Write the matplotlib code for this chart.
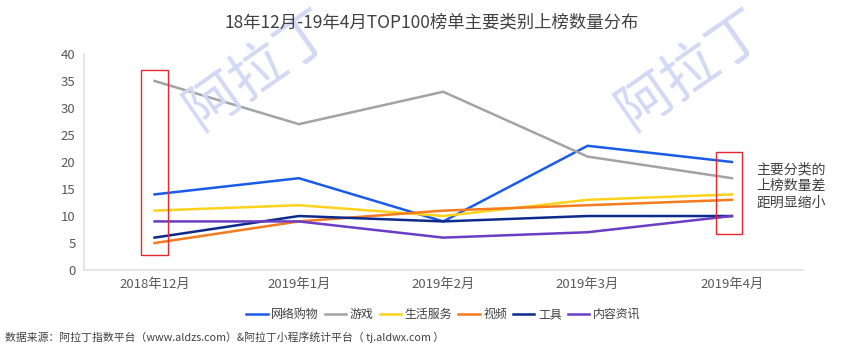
import matplotlib
matplotlib.use('Agg')
import matplotlib.pyplot as plt
from matplotlib.patches import Rectangle

plt.rcParams['font.family'] = ['Noto Sans CJK SC', 'DejaVu Sans']

# data
months = ['2018年12月', '2019年1月', '2019年2月', '2019年3月', '2019年4月']
shopping = [14, 17, 9, 23, 20]
games = [35, 27, 33, 21, 17]
life = [11, 12, 10, 13, 14]
video = [5, 9, 11, 12, 13]
tools = [6, 10, 9, 10, 10]
news = [9, 9, 6, 7, 10]

series = [
    ('网络购物', shopping, '#1a5ce8'),
    ('游戏', games, '#a3a3a3'),
    ('生活服务', life, '#fcd21c'),
    ('视频', video, '#f47b20'),
    ('工具', tools, '#0b2a8c'),
    ('内容资讯', news, '#6a3dc4'),
]

fig = plt.figure(figsize=(8.64, 3.48), dpi=100)
ax = fig.add_axes([0.097, 0.224, 0.832, 0.621])

x = range(len(months))
for name, vals, col in series:
    ax.plot(x, vals, color=col, lw=1.8, label=name, zorder=3)

ax.set_xlim(-0.49, 4.49)
ax.set_ylim(0, 40)
ax.set_yticks(range(0, 41, 5))
ax.set_xticks(list(x))
ax.set_xticklabels(months)
ax.tick_params(length=0, labelsize=9.5, colors='#595959', pad=6)
for s in ['top', 'right']:
    ax.spines[s].set_visible(False)
for s in ['left', 'bottom']:
    ax.spines[s].set_color('#e0e0e0')
    ax.spines[s].set_linewidth(1.2)

# highlight boxes
ax.add_patch(Rectangle((-0.095, 2.8), 0.185, 34.2, fill=False, ec='#e8282e', lw=1.0, zorder=4))
ax.add_patch(Rectangle((3.89, 6.7), 0.18, 15.1, fill=False, ec='#e8282e', lw=1.0, zorder=4))
ax.text(4.17, 15.6, '主要分类的\n上榜数量差\n距明显缩小', fontsize=10, color='#404040',
        va='center', ha='left', linespacing=1.25, clip_on=False)

# faint watermark
fig.text(0.30, 0.80, '阿拉丁', fontsize=40, color='#d3d9f5', rotation=35,
         ha='center', va='center', zorder=0)
fig.text(0.80, 0.80, '阿拉丁', fontsize=40, color='#d3d9f5', rotation=35,
         ha='center', va='center', zorder=0)

fig.text(0.5, 0.935, '18年12月-19年4月TOP100榜单主要类别上榜数量分布', ha='center', va='center',
         fontsize=12.5, color='#404040')

ax.legend(loc='center', bbox_to_anchor=(0.5, -0.205), ncol=6, frameon=False,
          fontsize=8.6, handlelength=1.8, handletextpad=0.3, columnspacing=0.5,
          labelcolor='#404040')

fig.text(0.006, 0.03, '数据来源：阿拉丁指数平台（www.aldzs.com）&阿拉丁小程序统计平台（ tj.aldwx.com ）',
         fontsize=7.8, color='#404040', ha='left', va='center')

fig.savefig('out.png', dpi=100)
